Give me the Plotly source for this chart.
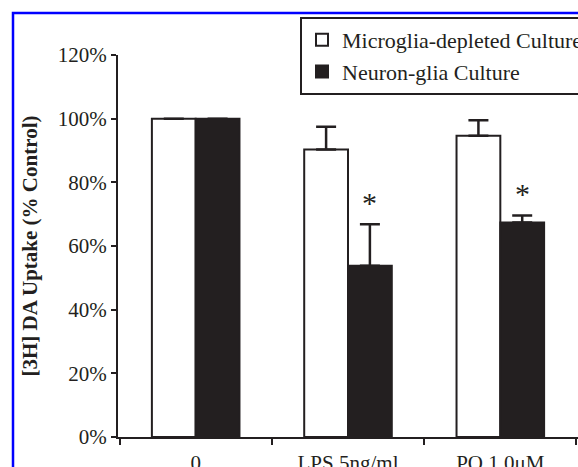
import plotly.graph_objects as go

# Treatment groups and measured dopamine uptake (% of control)
categories = ["0", "LPS 5ng/ml", "PO 1.0μM"]
depleted_values = [100, 90.3, 94.6]
depleted_err = [0, 7.2, 4.9]
neuron_glia_values = [100, 53.8, 67.4]
neuron_glia_err = [0, 13.0, 2.2]
significant = [False, True, True]
y_ticks = [0, 20, 40, 60, 80, 100, 120]
y_tick_labels = [f"{v}%" for v in y_ticks]

INK = "#231f20"
SERIF = "'Liberation Serif', 'Times New Roman', serif"

W, H = 578, 467
M_L, M_R, M_T, M_B = 118, 0, 55, 30
BARGAP = 0.425
X_RANGE = [-0.51, 2.51]

fig = go.Figure()

fig.add_trace(go.Bar(
    name="Microglia-depleted Culture",
    x=categories, y=depleted_values,
    marker=dict(color="white", line=dict(color=INK, width=2)),
    error_y=dict(type="data", array=depleted_err, arrayminus=[0] * len(categories),
                 symmetric=False, color=INK, thickness=2.5, width=10),
))
fig.add_trace(go.Bar(
    name="Neuron-glia Culture",
    x=categories, y=neuron_glia_values,
    marker=dict(color=INK, line=dict(color=INK, width=2)),
    error_y=dict(type="data", array=neuron_glia_err, arrayminus=[0] * len(categories),
                 symmetric=False, color=INK, thickness=2.5, width=10),
))

# Significance markers above the neuron-glia bars
plot_w = W - M_L - M_R
cat_px = plot_w / (X_RANGE[1] - X_RANGE[0])
bar_half = cat_px * (1 - BARGAP) / 4
for cat, v, e, sig in zip(categories, neuron_glia_values, neuron_glia_err, significant):
    if sig:
        fig.add_annotation(x=cat, y=v + e, xref="x", yref="y", text="*",
                           showarrow=False, xshift=bar_half, yshift=22,
                           yanchor="middle",
                           font=dict(family=SERIF, size=30, color=INK))

# Blue frame around the figure panel
plot_h = H - M_T - M_B
px_x = lambda p: (p - M_L) / plot_w
px_y = lambda p: (H - M_B - p) / plot_h
fig.add_shape(type="rect", xref="paper", yref="paper",
              x0=px_x(13), x1=px_x(W + 40), y0=px_y(H + 40), y1=px_y(13),
              line=dict(color="#0000ff", width=2.5), fillcolor="rgba(0,0,0,0)")

fig.update_layout(
    width=W, height=H,
    margin=dict(l=M_L, r=M_R, t=M_T, b=M_B, autoexpand=False),
    paper_bgcolor="white", plot_bgcolor="white",
    barmode="group", bargap=BARGAP, bargroupgap=0,
    font=dict(family=SERIF, size=20, color=INK),
    showlegend=True,
    legend=dict(x=px_x(300), y=px_y(17), xanchor="left", yanchor="top",
                bordercolor=INK, borderwidth=2, bgcolor="white",
                font=dict(family=SERIF, size=22, color=INK),
                traceorder="normal"),
    xaxis=dict(type="category", range=X_RANGE, showline=True, linecolor=INK,
               linewidth=2, ticks="outside", tickson="boundaries", ticklen=6,
               tickwidth=2, tickcolor=INK, showgrid=False, zeroline=False,
               ticklabelstandoff=6,
               tickfont=dict(family=SERIF, size=21, color=INK)),
    yaxis=dict(range=[0, 120], tickmode="array", tickvals=y_ticks,
               ticktext=y_tick_labels, showline=True,
               linecolor=INK, linewidth=2, ticks="outside", ticklen=5,
               tickwidth=2, tickcolor=INK, showgrid=False, zeroline=False,
               tickfont=dict(family=SERIF, size=21, color=INK),
               title=dict(text="<b>[3H] DA Uptake (% Control)</b>", standoff=14,
                          font=dict(family=SERIF, size=21, color=INK))),
)

fig.write_html("out.html")
